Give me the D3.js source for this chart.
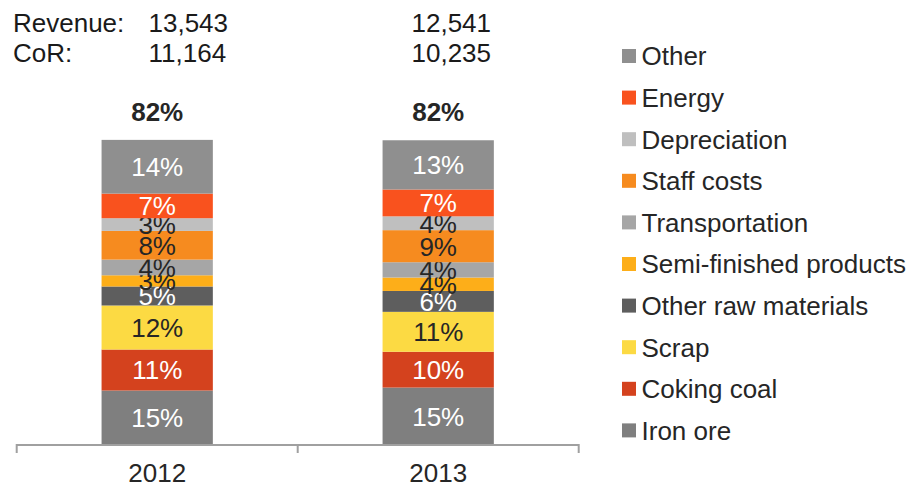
<!DOCTYPE html>
<html>
<head>
<meta charset="utf-8">
<script src="https://cdn.jsdelivr.net/npm/d3@7"></script>
<style>
  html, body { margin: 0; padding: 0; background: #fff; }
  svg { display: block; font-family: "Liberation Sans", Arial, sans-serif; }
</style>
</head>
<body>
<svg id="chart" width="916" height="486"></svg>
<script>
// Cost of revenue structure, % of revenue
const years = ["2012", "2013"];
const revenue = ["13,543", "12,541"];
const costOfRevenue = ["11,164", "10,235"];

// stacking order, bottom to top
const categories = [
  "Iron ore", "Coking coal", "Scrap", "Other raw materials",
  "Semi-finished products", "Transportation", "Staff costs",
  "Depreciation", "Energy", "Other"
];
const colors = [
  "#7f7f7f", "#d4421e", "#fcda43", "#5e5e5e",
  "#fdae19", "#a6a6a6", "#f68b1f",
  "#bfbfbf", "#f9521e", "#8f8f8f"
];
const lightText = ["Iron ore", "Coking coal", "Other raw materials", "Energy", "Other"];

const share2012 = [14.6, 11.0, 11.8, 5.1, 3.0, 4.2, 7.7, 3.4, 6.6, 14.4];
const share2013 = [15.4, 9.6, 10.7, 5.6, 3.6, 4.1, 8.6, 3.7, 7.2, 13.2];
const shares = [share2012, share2013];

const svg = d3.select("#chart");
const font = 26;
const pct = v => d3.format(".0f")(v) + "%";

// rows of data for the stack
const rows = years.map((y, i) => {
  const r = { year: y };
  categories.forEach((c, j) => { r[c] = shares[i][j]; });
  return r;
});
const series = d3.stack().keys(categories)(rows);

const x = d3.scaleBand().domain(years).range([16.7, 578.7]).padding(0);
const barW = x.bandwidth() * 0.396;
const y = d3.scaleLinear().domain([0, 100]).range([445, 72]);
const color = d3.scaleOrdinal().domain(categories).range(colors);

// bars
const layers = svg.append("g").selectAll("g").data(series).join("g")
  .attr("fill", d => color(d.key));
layers.selectAll("rect").data(d => d.map(p => ({ key: d.key, p })))
  .join("rect")
  .attr("x", d => x(d.p.data.year) + (x.bandwidth() - barW) / 2)
  .attr("width", barW)
  .attr("y", d => y(d.p[1]))
  .attr("height", d => y(d.p[0]) - y(d.p[1]));

// segment labels
layers.selectAll("text").data(d => d.map(p => ({ key: d.key, p })))
  .join("text")
  .attr("x", d => x(d.p.data.year) + x.bandwidth() / 2)
  .attr("y", d => (y(d.p[0]) + y(d.p[1])) / 2 + font * 0.36)
  .attr("text-anchor", "middle")
  .attr("font-size", font)
  .attr("fill", d => lightText.includes(d.key) ? "#ffffff" : "#262626")
  .text(d => pct(d.p[1] - d.p[0]));

// totals above bars
svg.append("g").selectAll("text").data(rows).join("text")
  .attr("x", d => x(d.year) + x.bandwidth() / 2)
  .attr("y", 121)
  .attr("text-anchor", "middle")
  .attr("font-size", font)
  .attr("font-weight", "bold")
  .attr("fill", "#262626")
  .text(d => pct(d3.sum(categories, c => d[c])));

// x axis
const axis = svg.append("g").attr("transform", "translate(0,445)")
  .call(d3.axisBottom(x).tickSize(0).tickPadding(0));
axis.select(".domain").remove();
axis.selectAll(".tick text")
  .attr("y", 37)
  .attr("dy", 0)
  .attr("font-size", font)
  .attr("font-family", "Liberation Sans, Arial, sans-serif")
  .attr("fill", "#262626");
const edges = [x.range()[0], ...years.slice(1).map(v => x(v)), x.range()[1]];
axis.append("line")
  .attr("x1", x.range()[0]).attr("x2", x.range()[1])
  .attr("y1", 0).attr("y2", 0)
  .attr("stroke", "#a0a0a0").attr("stroke-width", 2);
axis.selectAll(".edge").data(edges).join("line")
  .attr("class", "edge")
  .attr("x1", d => d).attr("x2", d => d)
  .attr("y1", -1).attr("y2", 8)
  .attr("stroke", "#a0a0a0").attr("stroke-width", 2);

// revenue and cost of revenue header
const header = svg.append("g").attr("font-size", font).attr("fill", "#1a1a1a");
header.append("text").attr("x", 13).attr("y", 32).text("Revenue:");
header.append("text").attr("x", 13).attr("y", 62).text("CoR:");
const valueX = [148.5, 411.5];
header.selectAll(".rev").data(revenue).join("text")
  .attr("class", "rev").attr("x", (d, i) => valueX[i]).attr("y", 32).text(d => d);
header.selectAll(".cor").data(costOfRevenue).join("text")
  .attr("class", "cor").attr("x", (d, i) => valueX[i]).attr("y", 62).text(d => d);

// legend, top entry is the top of the stack
const legendItems = categories.slice().reverse();
const legend = svg.append("g").selectAll("g").data(legendItems).join("g")
  .attr("transform", (d, i) => `translate(622, ${56 + i * 41.6})`);
legend.append("rect")
  .attr("x", 0).attr("y", -7).attr("width", 14).attr("height", 14)
  .attr("fill", d => color(d));
legend.append("text")
  .attr("x", 19.5).attr("y", 9.3)
  .attr("font-size", font)
  .attr("fill", "#262626")
  .text(d => d);
</script>
</body>
</html>
